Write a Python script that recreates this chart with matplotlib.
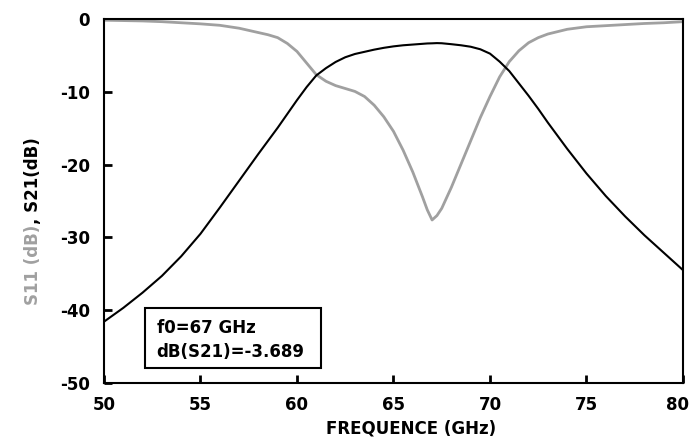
import matplotlib
matplotlib.use("Agg")
import matplotlib.pyplot as plt
from matplotlib.patches import Rectangle
from matplotlib.transforms import ScaledTranslation

plt.rcParams['font.family'] = ['DejaVu Sans']
plt.rcParams['font.weight'] = 'bold'
plt.rcParams['axes.unicode_minus'] = False

# frequency grid (GHz) and values
freq = [50, 51, 52, 53, 54, 55, 56, 57, 58, 58.5, 59, 59.5, 60, 60.5, 61, 61.5,
        62, 62.5, 63, 63.5, 64, 64.5, 65, 65.5, 66, 66.5, 66.75, 67, 67.25, 67.5,
        68, 68.5, 69, 69.5, 70, 70.5, 71, 71.5, 72, 72.5, 73, 74, 75, 76, 77, 78,
        79, 80]

s21 = [-41.6, -39.7, -37.6, -35.3, -32.6, -29.5, -25.9, -22.2, -18.5, -16.7,
       -14.9, -13.0, -11.1, -9.3, -7.7, -6.7, -5.85, -5.2, -4.75, -4.45, -4.15,
       -3.9, -3.7, -3.55, -3.45, -3.35, -3.3, -3.28, -3.25, -3.27, -3.4, -3.55,
       -3.75, -4.1, -4.7, -5.8, -7.1, -8.8, -10.5, -12.3, -14.2, -17.8, -21.2,
       -24.3, -27.1, -29.7, -32.1, -34.5]

s11 = [-0.1, -0.15, -0.2, -0.3, -0.45, -0.6, -0.8, -1.2, -1.8, -2.1, -2.5,
       -3.3, -4.4, -6.0, -7.6, -8.5, -9.1, -9.5, -9.9, -10.6, -11.8, -13.4,
       -15.4, -18.0, -21.0, -24.4, -26.2, -27.6, -27.0, -26.0, -23.1, -19.9,
       -16.7, -13.5, -10.6, -7.9, -5.8, -4.3, -3.2, -2.5, -2.0, -1.35, -1.0,
       -0.85, -0.7, -0.55, -0.45, -0.3]

x_ticks = [50, 55, 60, 65, 70, 75, 80]
y_ticks = [0, -10, -20, -30, -40, -50]

GRAY = '#a0a0a0'

fig = plt.figure(figsize=(6.91, 4.41), dpi=100)
ax = fig.add_axes([0.1505, 0.1322, 0.8379, 0.8236])

ax.plot(freq, s11, color=GRAY, lw=2.0)
ax.plot(freq, s21, color='black', lw=1.5)

ax.set_xlim(50, 80)
ax.set_ylim(-50, 0)
ax.set_xticks(x_ticks)
ax.set_yticks(y_ticks)
ax.tick_params(direction='in', length=6, width=2, labelsize=12, top=False, right=False)
ax.tick_params(axis='x', pad=9.5)
ax.tick_params(axis='y', pad=10)
for lab in ax.get_xticklabels() + ax.get_yticklabels():
    lab.set_fontweight('bold')
# last x label sits a little left of the axis end, as in the original
last = ax.get_xticklabels()[-1]
last.set_transform(last.get_transform() + ScaledTranslation(-5 / 100, 0, fig.dpi_scale_trans))
for sp in ax.spines.values():
    sp.set_linewidth(1.5)

# info box
ax.add_patch(Rectangle((0.0707, 0.0396), 0.3047, 0.165, transform=ax.transAxes,
                       fill=True, fc='white', ec='black', lw=1.5, zorder=5))
ax.text(0.0909, 0.136, 'f0=67 GHz', transform=ax.transAxes, fontsize=12,
        fontweight='bold', va='baseline', zorder=6)
ax.text(0.0909, 0.0716, 'dB(S21)=-3.689', transform=ax.transAxes, fontsize=12,
        fontweight='bold', va='baseline', zorder=6)

# axis labels
fig.text(0.595, 0.018, 'FREQUENCE (GHz)', ha='center', va='baseline',
         fontsize=12, fontweight='bold')
fig.text(0.055, 0.308, 'S11 (dB)', rotation=90, rotation_mode='anchor',
         ha='left', va='baseline', fontsize=12, fontweight='bold', color=GRAY)
fig.text(0.055, 0.492, ', S21(dB)', rotation=90, rotation_mode='anchor',
         ha='left', va='baseline', fontsize=12, fontweight='bold', color='black')

fig.savefig('out.png', dpi=100)
